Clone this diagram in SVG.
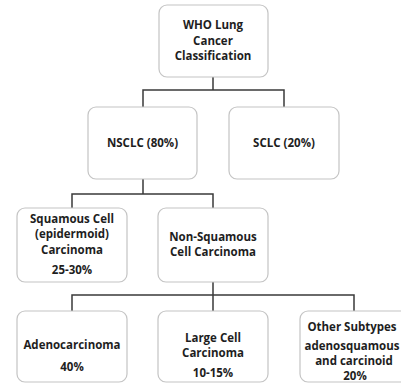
<svg xmlns="http://www.w3.org/2000/svg" width="401" height="383" viewBox="0 0 401 383">
<style>
.box{fill:#fff;stroke:#c4c4c4;stroke-width:1.2}
.t{font-family:"Open Sans","Liberation Sans",sans-serif;font-weight:bold;font-size:11.5px;fill:#1e1e1e;text-anchor:middle}
.c{fill:none;stroke:#3a3a3a;stroke-width:1.5}
</style>
<rect width="401" height="383" fill="#fff"/>
<g id="connectors">
<path class="c" d="M213,77 V90 M143,107 V90 H284 V107"/>
<path class="c" d="M143,179 V194 M72,208 V194 H213 V208"/>
<path class="c" d="M213,282 V295 M72,311 V295 H354 V311 M213,295 V311"/>
</g>
<g id="who">
<rect class="box" x="159" y="5" width="109" height="72" rx="8"/>
<text class="t" x="213" y="29">WHO Lung</text>
<text class="t" x="213" y="45">Cancer</text>
<text class="t" x="213" y="60">Classification</text>
</g>
<g id="nsclc">
<rect class="box" x="88" y="107" width="109" height="72" rx="8"/>
<text class="t" x="142.5" y="147">NSCLC (80%)</text>
</g>
<g id="sclc">
<rect class="box" x="229" y="107" width="110" height="72" rx="8"/>
<text class="t" x="284" y="147">SCLC (20%)</text>
</g>
<g id="squamous">
<rect class="box" x="17" y="208" width="110" height="74" rx="8"/>
<text class="t" x="72" y="223">Squamous Cell</text>
<text class="t" x="72" y="238">(epidermoid)</text>
<text class="t" x="72" y="254">Carcinoma</text>
<text class="t" x="72" y="274">25-30%</text>
</g>
<g id="nonsquamous">
<rect class="box" x="158" y="208" width="110" height="74" rx="8"/>
<text class="t" x="213" y="241">Non-Squamous</text>
<text class="t" x="213" y="256">Cell Carcinoma</text>
</g>
<g id="adeno">
<rect class="box" x="17" y="311" width="110" height="71" rx="8"/>
<text class="t" x="72" y="349">Adenocarcinoma</text>
<text class="t" x="72" y="371">40%</text>
</g>
<g id="largecell">
<rect class="box" x="158" y="311" width="110" height="71" rx="8"/>
<text class="t" x="213" y="342">Large Cell</text>
<text class="t" x="213" y="357">Carcinoma</text>
<text class="t" x="213" y="377">10-15%</text>
</g>
<g id="other">
<rect class="box" x="300" y="311" width="110" height="71" rx="8"/>
<text class="t" x="352" y="331">Other Subtypes</text>
<text class="t" x="352" y="350">adenosquamous</text>
<text class="t" x="354" y="365">and carcinoid</text>
<text class="t" x="355" y="380">20%</text>
</g>
</svg>
